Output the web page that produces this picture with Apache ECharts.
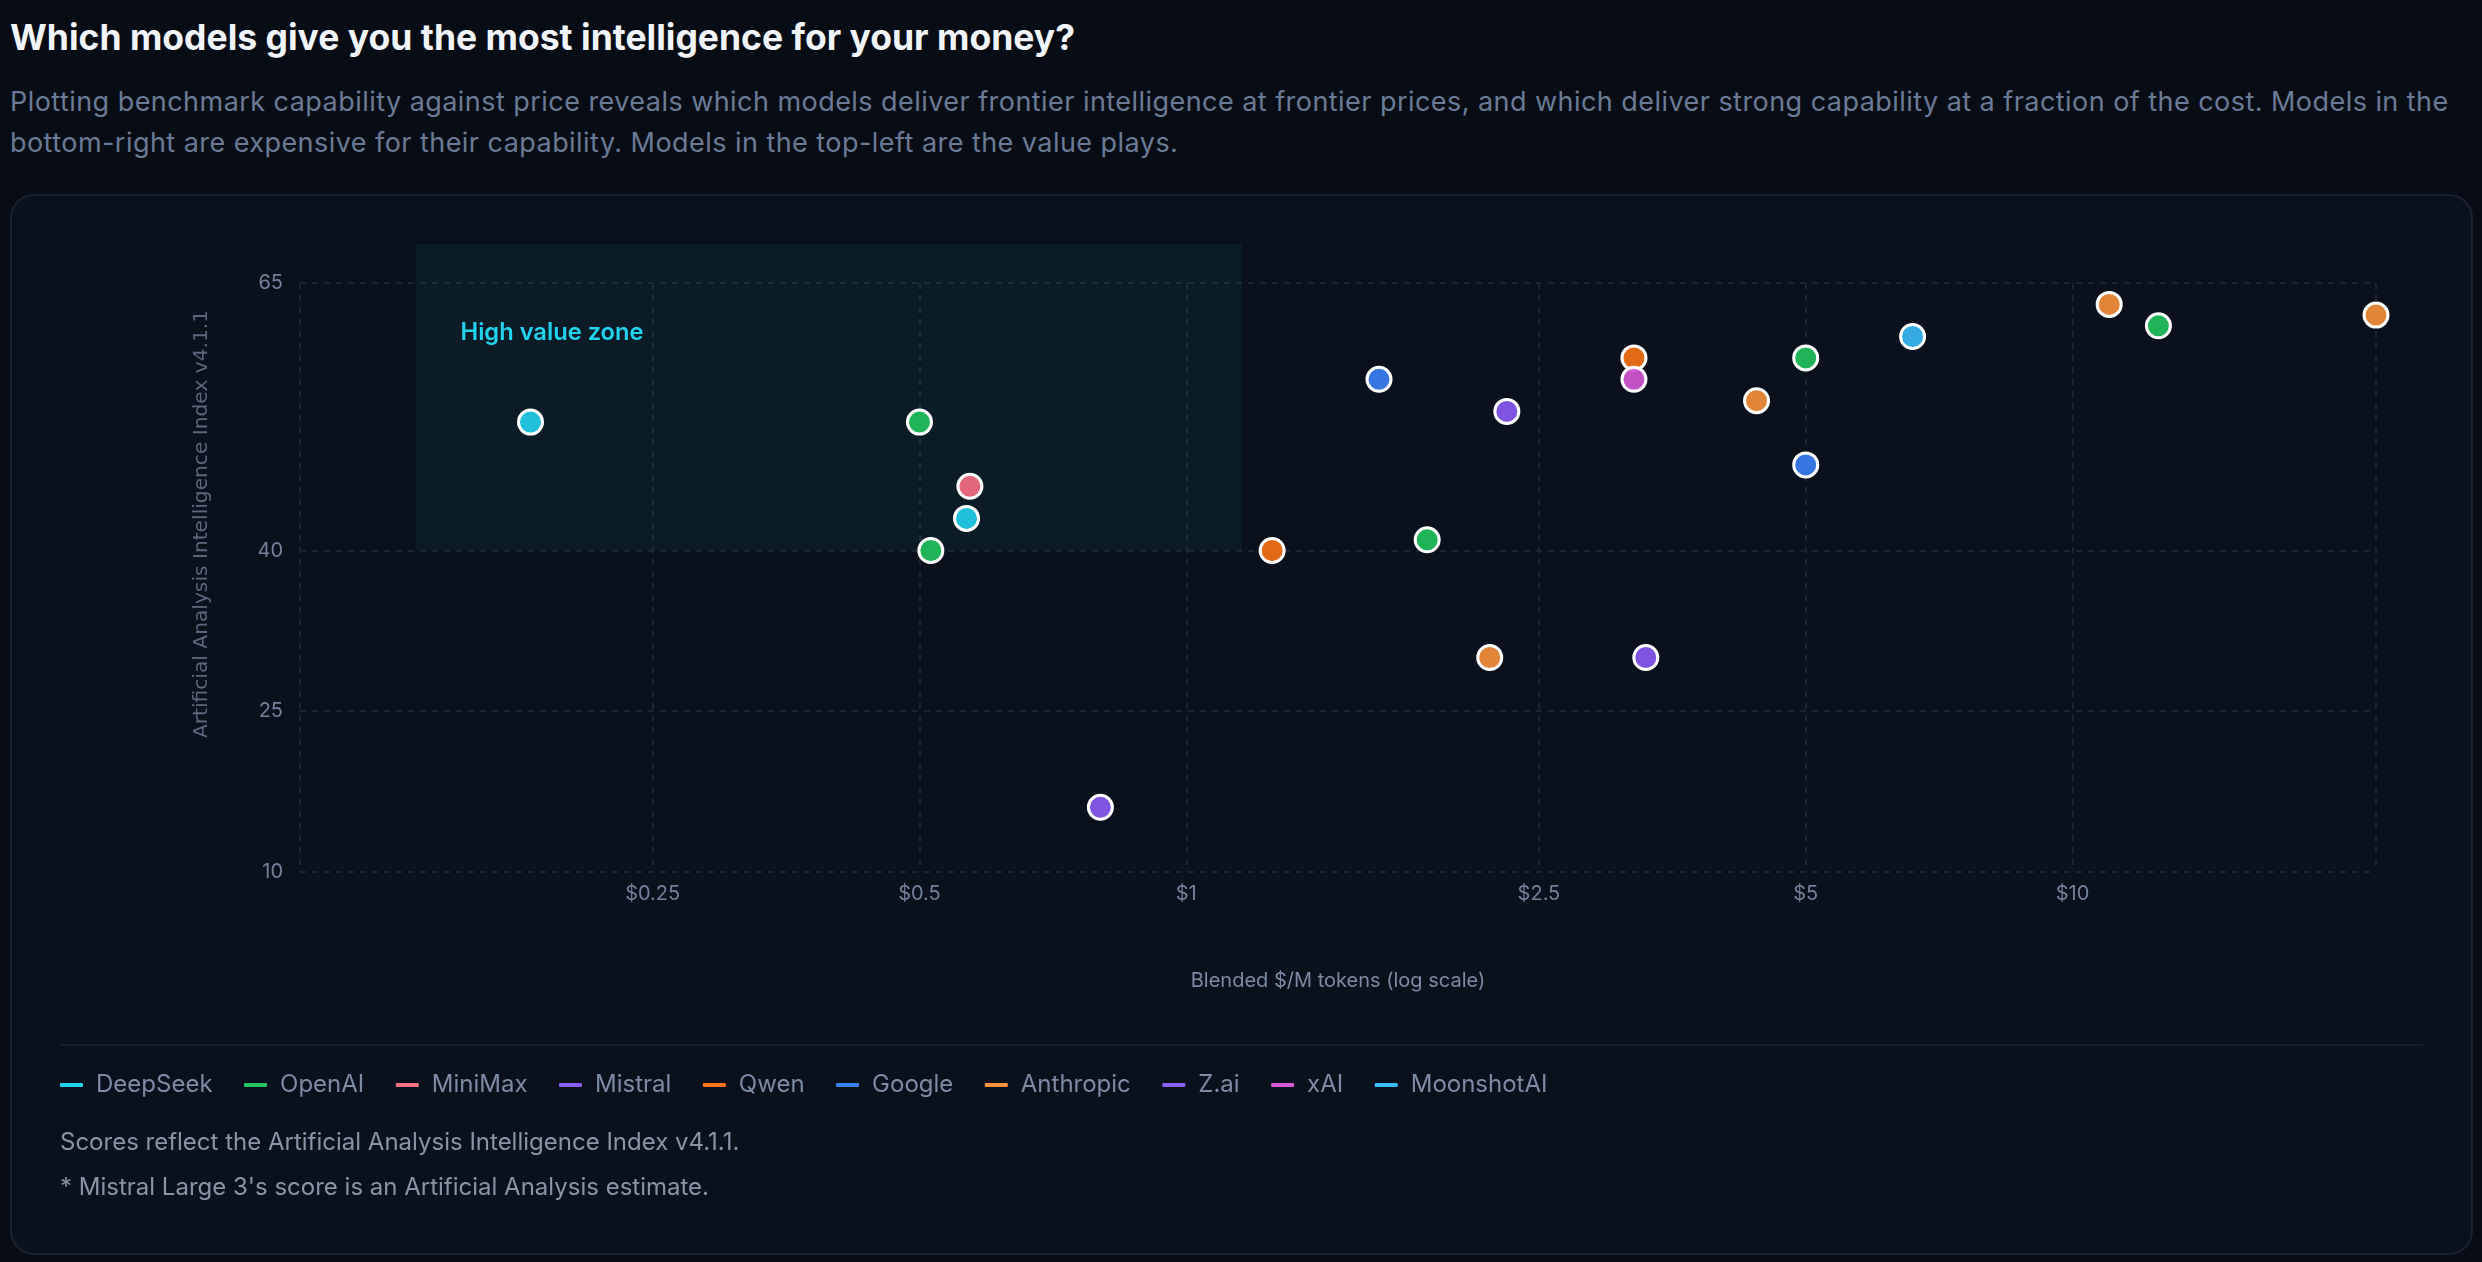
<!DOCTYPE html>
<html>
<head>
<meta charset="utf-8">
<script src="https://cdn.jsdelivr.net/npm/echarts@6/dist/echarts.min.js"></script>
<style>
  html, body { margin: 0; padding: 0; width: 2482px; height: 1262px; overflow: hidden; background: #080c15; font-family: Inter, "Noto Sans", sans-serif; }
  #title { position: absolute; left: 10px; top: 16px; font-size: 35.5px; line-height: 44px; font-weight: 700; color: #f1f5f9; white-space: nowrap; }
  #subtitle { position: absolute; left: 10px; top: 82px; font-size: 27px; line-height: 40.5px; letter-spacing: 0.45px; color: #6b7b95; white-space: nowrap; }
  #card { position: absolute; left: 10px; top: 194px; width: 2463px; height: 1061px; box-sizing: border-box; border: 2px solid #1a2130; border-radius: 24px; background: #0b111c; }
  #chart { position: absolute; left: 0; top: 0; width: 2482px; height: 1262px; }
</style>
</head>
<body>
<div id="title">Which models give you the most intelligence for your money?</div>
<div id="subtitle">Plotting benchmark capability against price reveals which models deliver frontier intelligence at frontier prices, and which deliver strong capability at a fraction of the cost. Models in the<br>bottom-right are expensive for their capability. Models in the top-left are the value plays.</div>
<div id="card"></div>
<div id="chart"></div>
<script>
// ---- data ----
const companies = ['DeepSeek', 'OpenAI', 'MiniMax', 'Mistral', 'Qwen', 'Google', 'Anthropic', 'Z.ai', 'xAI', 'MoonshotAI'];
const companyColors = ['#22d3ee', '#22c55e', '#fb7185', '#8b5cf6', '#f97316', '#3b82f6', '#fb923c', '#8b5cf6', '#d65ad6', '#38bdf8'];
// [blended $/M tokens, intelligence index]
const deepseekPts = [[0.182, 52], [0.565, 43]];
const openaiPts = [[0.5, 52], [0.515, 40], [1.87, 41], [5, 58], [12.5, 61]];
const minimaxPts = [[0.57, 46]];
const mistralPts = [[0.8, 16], [3.3, 30]];
const qwenPts = [[1.25, 40], [3.2, 58]];
const googlePts = [[1.65, 56], [5, 48]];
const anthropicPts = [[2.2, 30], [4.4, 54], [11, 63], [22, 62]];
const zaiPts = [[2.3, 53]];
const xaiPts = [[3.2, 56]];
const moonshotPts = [[6.6, 60]];
const seriesPoints = [deepseekPts, openaiPts, minimaxPts, mistralPts, qwenPts, googlePts, anthropicPts, zaiPts, xaiPts, moonshotPts];

const xTickValues = [0.25, 0.5, 1, 2.5, 5, 10];
const xGridValues = [0.1, 0.25, 0.5, 1, 2.5, 5, 10, 22];
const yTickValues = [10, 25, 40, 65];
const xRange = [0.1, 22];
const yRange = [10, 65];
// high value zone [xMin, yMin, xMax, yMax]
const zoneBounds = [0.135, 40, 1.155, 68.65];

const footnotes = [
  'Scores reflect the Artificial Analysis Intelligence Index v4.1.1.',
  "* Mistral Large 3's score is an Artificial Analysis estimate."
];

// ---- chart ----
function rgba(hex, a) {
  const n = parseInt(hex.slice(1), 16);
  return 'rgba(' + ((n >> 16) & 255) + ',' + ((n >> 8) & 255) + ',' + (n & 255) + ',' + a + ')';
}
const gridLine = { color: '#1d2431', width: 2, type: [6, 6] };
const tickColor = '#74819a';

const chart = echarts.init(document.getElementById('chart'), null, { renderer: 'canvas' });

const series = [{
  type: 'custom',
  name: 'High value zone',
  silent: true,
  clip: false,
  z: 1,
  data: [zoneBounds],
  encode: { x: [0, 2], y: [1, 3] },
  renderItem: function (params, api) {
    const p0 = api.coord([api.value(0), api.value(3)]);
    const p1 = api.coord([api.value(2), api.value(1)]);
    return {
      type: 'group',
      children: [{
        type: 'rect',
        shape: { x: p0[0], y: p0[1], width: p1[0] - p0[0], height: p1[1] - p0[1] },
        style: { fill: 'rgba(34,211,238,0.055)' }
      }, {
        type: 'text',
        x: p0[0] + 45,
        y: p0[1] + 89,
        style: { text: 'High value zone', fill: '#22d3ee', font: '600 23.7px Inter', verticalAlign: 'middle' }
      }]
    };
  }
}];

companies.forEach(function (c, i) {
  series.push({
    type: 'scatter',
    name: c,
    data: seriesPoints[i],
    symbol: 'circle',
    symbolSize: 24,
    z: 3,
    itemStyle: { color: rgba(companyColors[i], 0.9), borderColor: '#ffffff', borderWidth: 3, opacity: 1 },
    emphasis: { disabled: true }
  });
});

chart.setOption({
  animation: false,
  textStyle: { fontFamily: 'Inter' },
  grid: { left: 300, right: 106, top: 283, bottom: 390.5 },
  xAxis: {
    type: 'log',
    logBase: 10,
    min: xRange[0],
    max: xRange[1],
    axisLine: { show: false },
    axisTick: { show: false, customValues: xGridValues },
    axisLabel: {
      customValues: xTickValues,
      formatter: function (v) { return '$' + (+(+v).toPrecision(3)); },
      color: tickColor, fontSize: 20, margin: 12, fontFamily: 'Inter'
    },
    splitLine: { show: true, lineStyle: gridLine },
    name: 'Blended $/M tokens (log scale)',
    nameLocation: 'middle',
    nameGap: 99,
    nameTextStyle: { color: '#7d8aa3', fontSize: 20, fontFamily: 'Inter' }
  },
  yAxis: {
    type: 'value',
    min: yRange[0],
    max: yRange[1],
    axisLine: { show: false },
    axisTick: { show: false, customValues: yTickValues },
    axisLabel: { customValues: yTickValues, color: tickColor, fontSize: 20, margin: 17, fontFamily: 'Inter' },
    splitLine: { show: true, lineStyle: gridLine }
  },
  legend: {
    left: 60,
    top: 1073,
    padding: 0,
    itemGap: 31.5,
    itemWidth: 23,
    itemHeight: 4,
    icon: 'roundRect',
    selectedMode: false,
    itemStyle: { borderWidth: 0 },
    textStyle: { color: '#7d8ba5', fontSize: 24, fontFamily: 'Inter', padding: [0, 0, 0, 8], lineHeight: 24 },
    data: companies.map(function (c, i) {
      return { name: c, itemStyle: { color: companyColors[i], borderWidth: 0, opacity: 1 } };
    })
  },
  graphic: [{
    type: 'text',
    x: 202, y: 524,
    rotation: Math.PI / 2,
    style: { text: 'Artificial Analysis Intelligence Index v4.1.1', font: '20.2px "DejaVu Sans"', fill: '#5b677d', align: 'center', verticalAlign: 'middle' }
  }, {
    type: 'line',
    shape: { x1: 60, y1: 1045, x2: 2423, y2: 1045 },
    style: { stroke: '#161d2a', lineWidth: 2 }
  }, {
    type: 'text',
    x: 60, y: 1143,
    style: { text: footnotes[0], font: '24px Inter', fill: '#8a94a7', verticalAlign: 'middle' }
  }, {
    type: 'text',
    x: 60, y: 1188,
    style: { text: footnotes[1], font: '24px Inter', fill: '#8a94a7', verticalAlign: 'middle' }
  }],
  series: series
});
</script>
</body>
</html>
